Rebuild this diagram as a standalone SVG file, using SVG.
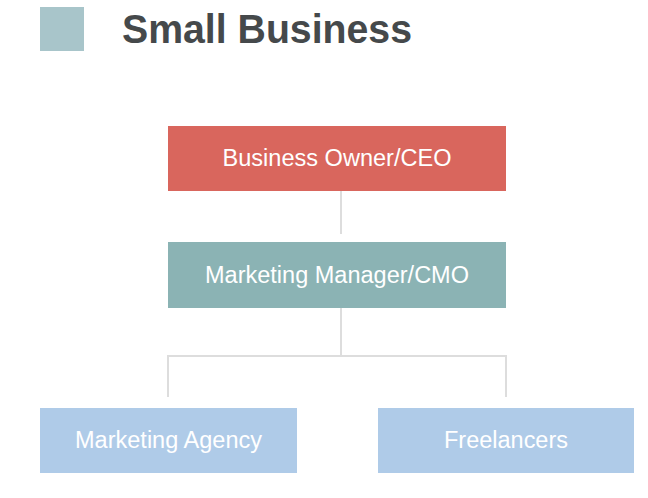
<svg xmlns="http://www.w3.org/2000/svg" width="648" height="498" viewBox="0 0 648 498">
  <style>
    .lbl { font-family: "Liberation Sans", Arial, sans-serif; font-size: 23px; fill: #ffffff; text-anchor: middle; }
    .conn { stroke: #dddddd; stroke-width: 2; fill: none; }
  </style>
  <rect width="648" height="498" fill="#ffffff"/>
  <g id="title">
    <rect x="40" y="7" width="44" height="44" fill="#a8c5ca"/>
    <text x="122" y="43" font-family="'Liberation Sans', Arial, sans-serif" font-size="41" font-weight="bold" fill="#45494b" textLength="290" lengthAdjust="spacingAndGlyphs">Small Business</text>
  </g>
  <g id="connectors">
    <line class="conn" x1="341" y1="191" x2="341" y2="234"/>
    <line class="conn" x1="341" y1="308" x2="341" y2="356"/>
    <polyline class="conn" points="168,397 168,356 506,356 506,397"/>
  </g>
  <g id="ceo">
    <rect x="168" y="126" width="338" height="65" fill="#d9665d"/>
    <text class="lbl" x="337" y="166" textLength="229" lengthAdjust="spacingAndGlyphs">Business Owner/CEO</text>
  </g>
  <g id="cmo">
    <rect x="168" y="242" width="338" height="66" fill="#8bb3b4"/>
    <text class="lbl" x="337" y="283" textLength="264" lengthAdjust="spacingAndGlyphs">Marketing Manager/CMO</text>
  </g>
  <g id="agency">
    <rect x="40" y="408" width="257" height="65" fill="#afcbe8"/>
    <text class="lbl" x="168.5" y="448" textLength="187" lengthAdjust="spacingAndGlyphs">Marketing Agency</text>
  </g>
  <g id="freelancers">
    <rect x="378" y="408" width="256" height="65" fill="#afcbe8"/>
    <text class="lbl" x="506" y="448" textLength="124" lengthAdjust="spacingAndGlyphs">Freelancers</text>
  </g>
</svg>
